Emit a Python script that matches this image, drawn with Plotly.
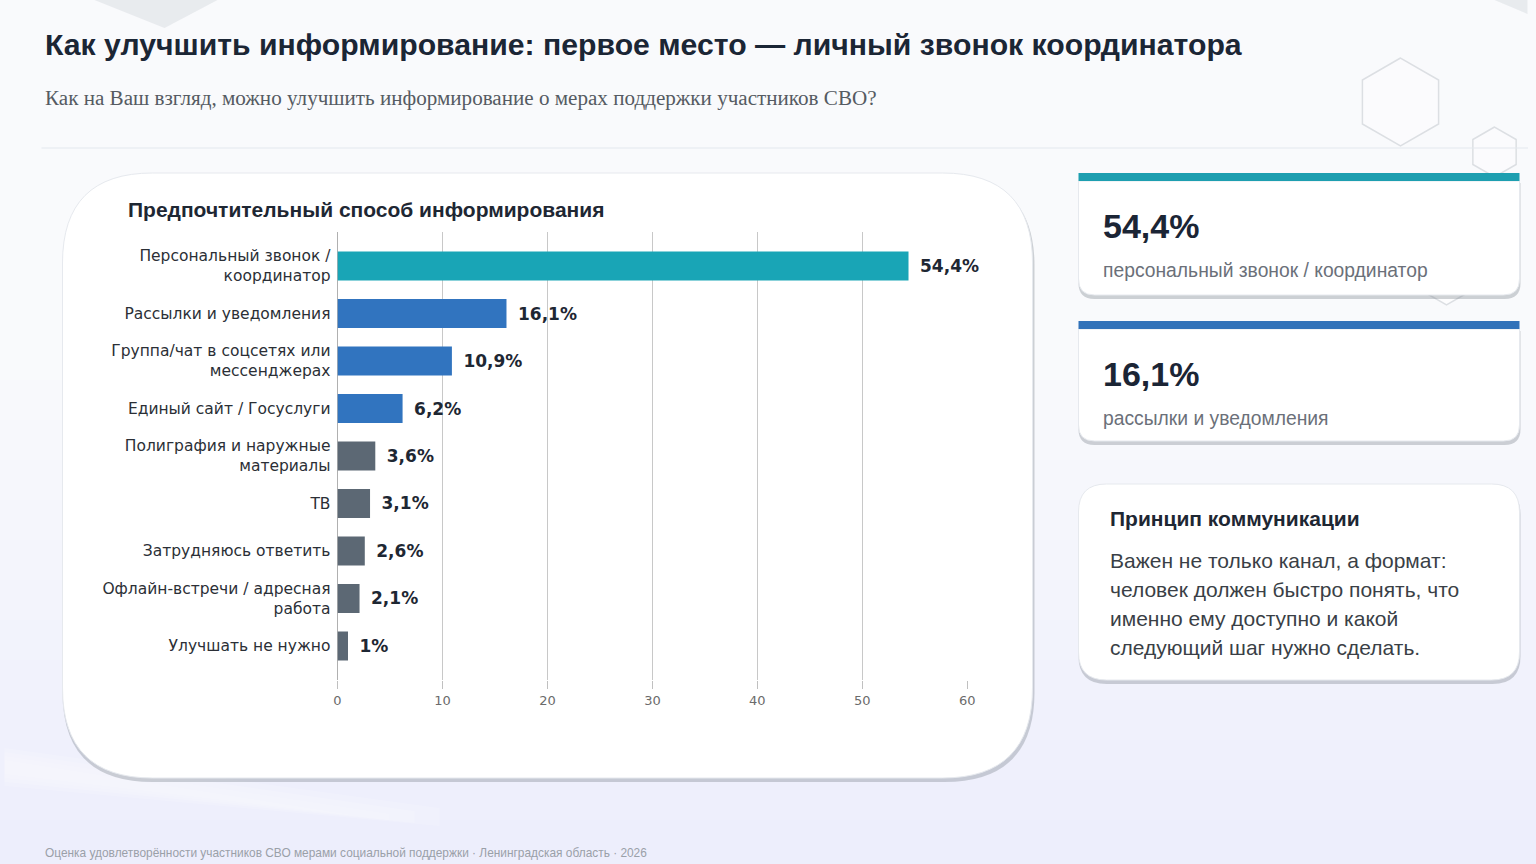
import plotly.graph_objects as go

W, H = 1536, 864

categories = [
    "Персональный звонок /<br>координатор",
    "Рассылки и уведомления",
    "Группа/чат в соцсетях или<br>мессенджерах",
    "Единый сайт / Госуслуги",
    "Полиграфия и наружные<br>материалы",
    "ТВ",
    "Затрудняюсь ответить",
    "Офлайн-встречи / адресная<br>работа",
    "Улучшать не нужно",
]
values = [54.4, 16.1, 10.9, 6.2, 3.6, 3.1, 2.6, 2.1, 1.0]
groups = ["top", "mid", "mid", "mid", "low", "low", "low", "low", "low"]
x_ticks = [0, 10, 20, 30, 40, 50, 60]

title = "Как улучшить информирование: первое место — личный звонок координатора"
subtitle = "Как на Ваш взгляд, можно улучшить информирование о мерах поддержки участников СВО?"
chart_title = "Предпочтительный способ информирования"
card_values = ["54,4%", "16,1%"]
card_labels = ["персональный звонок / координатор", "рассылки и уведомления"]
note_title = "Принцип коммуникации"
note_lines = [
    "Важен не только канал, а формат:",
    "человек должен быстро понять, что",
    "именно ему доступно и какой",
    "следующий шаг нужно сделать.",
]
footer = "Оценка удовлетворённости участников СВО мерами социальной поддержки · Ленинградская область · 2026"

colors_map = {"top": "#19a5b6", "mid": "#3174bf", "low": "#5c6874"}
bar_colors = [colors_map[g] for g in groups]
bar_text = ["\u2002" + (f"{v:g}".replace(".", ",")) + "%" for v in values]

BG = "#f9fafc"


def X(px):
    return (px - 4.5) / 1524.0


def Y(py):
    return 1 - py / H


def rrect(x0, y0, x1, y1, rt, rb):
    p = []
    p.append(f"M {X(x0 + rt)},{Y(y0)}")
    p.append(f"L {X(x1 - rt)},{Y(y0)}")
    p.append(f"Q {X(x1)},{Y(y0)} {X(x1)},{Y(y0 + rt)}")
    p.append(f"L {X(x1)},{Y(y1 - rb)}")
    p.append(f"Q {X(x1)},{Y(y1)} {X(x1 - rb)},{Y(y1)}")
    p.append(f"L {X(x0 + rb)},{Y(y1)}")
    p.append(f"Q {X(x0)},{Y(y1)} {X(x0)},{Y(y1 - rb)}")
    p.append(f"L {X(x0)},{Y(y0 + rt)}")
    p.append(f"Q {X(x0)},{Y(y0)} {X(x0 + rt)},{Y(y0)}")
    p.append("Z")
    return " ".join(p)


def hexagon(cx, cy, r):
    import math
    pts = []
    for k in range(6):
        a = math.radians(90 + 60 * k)
        pts.append((cx + r * math.cos(a), cy - r * math.sin(a)))
    s = f"M {X(pts[0][0])},{Y(pts[0][1])} " + " ".join(
        f"L {X(px)},{Y(py)}" for px, py in pts[1:]) + " Z"
    return s


shapes = []
# soft vertical gradient in the background
for i in range(12):
    y0 = 380 + i * 40
    shapes.append(dict(type="rect", xref="paper", yref="paper", layer="below",
                       x0=-0.01, x1=1.01, y0=0, y1=Y(y0),
                       fillcolor="rgba(222,230,240,0.03)", line=dict(width=0)))
# faint background decorations
shapes.append(dict(type="path", xref="paper", yref="paper", layer="below",
                   path=f"M {X(95)},{Y(0)} L {X(218)},{Y(0)} L {X(165)},{Y(28)} Z",
                   fillcolor="rgba(200,205,212,0.35)", line=dict(width=0)))
shapes.append(dict(type="path", xref="paper", yref="paper", layer="below",
                   path=f"M {X(1495)},{Y(0)} L {X(1528)},{Y(0)} L {X(1528)},{Y(14)} Z",
                   fillcolor="rgba(200,205,212,0.35)", line=dict(width=0)))
for k in range(4):
    shapes.append(dict(type="path", xref="paper", yref="paper", layer="below",
                       path=(f"M {X(5)},{Y(748 + 4 * k)} L {X(440 - 25 * k)},{Y(808 + 3 * k)} "
                             f"L {X(440 - 25 * k)},{Y(826 - 3 * k)} L {X(5)},{Y(786 - 4 * k)} Z"),
                       fillcolor="rgba(255,255,255,0.14)", line=dict(width=0)))
# hexagons
shapes.append(dict(type="path", xref="paper", yref="paper", layer="below",
                   path=hexagon(1401, 102, 44), fillcolor="rgba(255,255,255,0.3)",
                   line=dict(color="#dcdfe3", width=1.5)))
shapes.append(dict(type="path", xref="paper", yref="paper", layer="below",
                   path=hexagon(1495, 152, 25), fillcolor="rgba(255,255,255,0.3)",
                   line=dict(color="#dcdfe3", width=1.5)))
shapes.append(dict(type="path", xref="paper", yref="paper", layer="below",
                   path=hexagon(1447, 265, 40), fillcolor="rgba(255,255,255,0.6)",
                   line=dict(color="#dcdfe3", width=1.5)))
# separator
shapes.append(dict(type="line", xref="paper", yref="paper", layer="below",
                   x0=X(42), x1=1, y0=Y(148), y1=Y(148),
                   line=dict(color="#e3e8ee", width=1.2)))
# chart card shadow + card
shapes.append(dict(type="path", xref="paper", yref="paper", layer="below",
                   path=rrect(63, 176, 1035, 782, 90, 90),
                   fillcolor="rgba(120,128,138,0.35)", line=dict(width=0)))
shapes.append(dict(type="path", xref="paper", yref="paper", layer="below",
                   path=rrect(63, 173, 1033, 778, 90, 90),
                   fillcolor="#ffffff", line=dict(color="#e6e9ee", width=1)))
# right cards
card_tops = [173, 321]
card_bots = [295, 441]
card_bar_colors = ["#1e9fb0", "#3172b9"]
for t, b, c in zip(card_tops, card_bots, card_bar_colors):
    shapes.append(dict(type="path", xref="paper", yref="paper", layer="below",
                       path=rrect(1079, t + 10, 1521, b + 4, 0, 16),
                       fillcolor="rgba(120,128,138,0.35)", line=dict(width=0)))
    shapes.append(dict(type="path", xref="paper", yref="paper", layer="below",
                       path=rrect(1079, t + 8, 1520, b, 0, 16),
                       fillcolor="#ffffff", line=dict(color="#e6e9ee", width=1)))
    shapes.append(dict(type="rect", xref="paper", yref="paper", layer="below",
                       x0=X(1079), x1=X(1520), y0=Y(t + 8), y1=Y(t),
                       fillcolor=c, line=dict(width=0)))
# note card
shapes.append(dict(type="path", xref="paper", yref="paper", layer="below",
                   path=rrect(1079, 487, 1521, 684, 28, 28),
                   fillcolor="rgba(120,128,138,0.35)", line=dict(width=0)))
shapes.append(dict(type="path", xref="paper", yref="paper", layer="below",
                   path=rrect(1079, 484, 1520, 680, 28, 28),
                   fillcolor="#ffffff", line=dict(color="#e6e9ee", width=1)))

SANS = "Liberation Sans, Arial, sans-serif"
anns = []


def txt(x, y, s, size, color, family=SANS, bold=False):
    anns.append(dict(xref="paper", yref="paper", x=X(x), y=Y(y), xanchor="left",
                     yanchor="middle", showarrow=False, borderpad=0,
                     text=f"<b>{s}</b>" if bold else s,
                     font=dict(size=size, color=color, family=family)))


txt(44, 44, title, 30.2, "#1b2635", bold=True)
txt(44, 98, subtitle, 21.1, "#555b62", family="Liberation Serif, Times New Roman, serif")
txt(127, 209, chart_title, 21, "#1e2733", bold=True)
for t, v, l in zip(card_tops, card_values, card_labels):
    txt(1102, t + 53, v, 34, "#1b2535", bold=True)
    txt(1102, t + 97, l, 19.3, "#6b7079")
txt(1109, 518, note_title, 21, "#1e2733", bold=True)
for i, line in enumerate(note_lines):
    txt(1109, 560 + 29 * i, line, 21, "#3a3f46")
txt(44, 853, footer, 11.9, "#9aa0a8")

fig = go.Figure()
fig.add_trace(go.Bar(
    x=values, y=categories, orientation="h",
    marker=dict(color=bar_colors, line=dict(width=0)),
    width=0.61,
    text=bar_text, textposition="outside", cliponaxis=False,
    textfont=dict(family="DejaVu Sans", size=17, color="#1e2733", weight="bold"),
    hoverinfo="skip",
))

fig.update_layout(
    width=W, height=H,
    margin=dict(l=0, r=0, t=0, b=0),
    paper_bgcolor=BG,
    plot_bgcolor="rgba(0,0,0,0)",
    showlegend=False,
    shapes=shapes,
    annotations=anns,
    xaxis=dict(
        domain=[X(338), X(968)],
        range=[0, 60.02],
        tickvals=x_ticks,
        showgrid=True, gridcolor="#c8c8c8", gridwidth=1,
        zeroline=True, zerolinecolor="#b0b0b0", zerolinewidth=1,
        ticks="outside", ticklen=8, tickcolor="#c0c0c0",
        tickfont=dict(family="DejaVu Sans", size=13, color="#6b6b6b"),
        showline=False, fixedrange=True,
    ),
    yaxis=dict(
        domain=[Y(680), Y(232)],
        type="category",
        categoryorder="array", categoryarray=categories,
        range=[8.716, -0.716],
        showgrid=False, zeroline=False, showline=False,
        ticks="", ticklabelstandoff=6,
        tickfont=dict(family="DejaVu Sans", size=15.5, color="#2b2f36"),
        fixedrange=True,
    ),
)

fig.write_html(
    "out.html",
    config={"displayModeBar": False},
    post_script=("document.body.style.margin='0';"
                 "document.body.style.overflow='hidden';"
                 f"document.body.style.background='{BG}';"
                 f"document.documentElement.style.background='{BG}';"),
)
